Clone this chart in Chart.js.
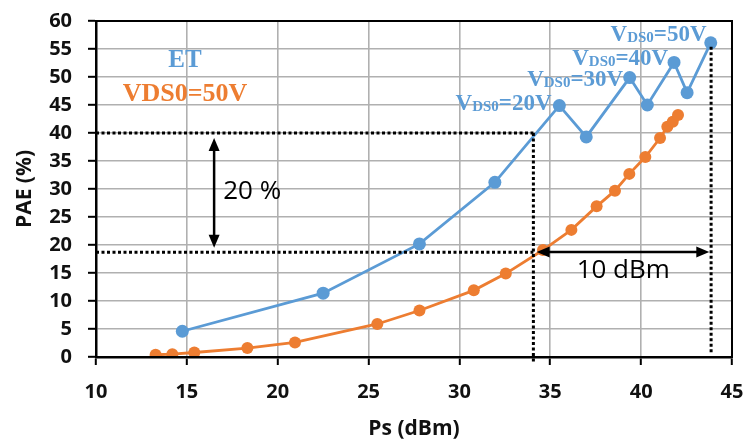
<!DOCTYPE html>
<html>
<head>
<meta charset="utf-8">
<script src="https://cdn.jsdelivr.net/npm/chart.js@4.4.1/dist/chart.umd.min.js"></script>
<style>
  html, body { margin: 0; padding: 0; background: #fff; }
  #wrap { width: 746px; height: 444px; }
</style>
</head>
<body>
<div id="wrap"><canvas id="chart" width="746" height="444"></canvas></div>
<script>
// ET (blue) : Ps (dBm) / PAE (%)
const etPs  = [14.75, 22.5, 27.8, 31.95, 35.5, 36.98, 39.37, 40.34, 41.81, 42.53, 43.83];
const etPae = [4.6, 11.4, 20.2, 31.2, 44.9, 39.3, 49.9, 45.0, 52.6, 47.2, 56.1];

// VDS0=50V (orange)
const fixPs  = [13.28, 14.2, 15.41, 18.33, 20.95, 25.48, 27.8, 30.79, 32.55, 34.6, 36.16, 37.55, 38.56, 39.35, 40.23, 41.04, 41.44, 41.74, 42.03];
const fixPae = [0.4, 0.5, 0.8, 1.6, 2.6, 5.9, 8.3, 11.9, 14.9, 19.1, 22.7, 26.9, 29.7, 32.7, 35.7, 39.1, 41.1, 42.0, 43.2];

// axes
const xTicks = [10, 15, 20, 25, 30, 35, 40, 45];
const yTicks = [0, 5, 10, 15, 20, 25, 30, 35, 40, 45, 50, 55, 60];

const BLUE = '#5B9BD5';
const ORANGE = '#ED7D31';

// annotations (data units)
const dottedLines = [
  [[10, 40], [34.07, 40]],
  [[34.07, 40], [34.07, -1]],
  [[10, 18.7], [34.07, 18.7]],
  [[43.85, 55.4], [43.85, 0.65]]
];
const arrows = [
  [[16.5, 39.1], [16.5, 19.5]],
  [[34.25, 18.75], [43.75, 18.75]]
];
const vdsLabels = [
  { x: 35.07, y: 45.6, v: '20V' },
  { x: 39.01, y: 49.8, v: '30V' },
  { x: 41.49, y: 53.6, v: '40V' },
  { x: 43.6,  y: 57.8, v: '50V' }
];

function pts(xs, ys) {
  return xs.map((v, i) => ({ x: v, y: ys[i] }));
}

function arrowHead(ctx, x1, y1, x2, y2) {
  const ang = Math.atan2(y2 - y1, x2 - x1);
  const len = 13, hw = 5.5;
  ctx.beginPath();
  ctx.moveTo(x2, y2);
  ctx.lineTo(x2 - len * Math.cos(ang) + hw * Math.sin(ang), y2 - len * Math.sin(ang) - hw * Math.cos(ang));
  ctx.lineTo(x2 - len * Math.cos(ang) - hw * Math.sin(ang), y2 - len * Math.sin(ang) + hw * Math.cos(ang));
  ctx.closePath();
  ctx.fill();
}

const annot = {
  id: 'annot',
  afterDraw(chart) {
    const { ctx, chartArea: a, scales: { x, y } } = chart;
    ctx.save();

    // cadre
    ctx.strokeStyle = '#000';
    ctx.lineWidth = 2;
    ctx.strokeRect(a.left, a.top, a.right - a.left, a.bottom - a.top);

    // pointillés
    ctx.setLineDash([3, 2.5]);
    ctx.lineWidth = 3;
    dottedLines.forEach(([p, q]) => {
      ctx.beginPath();
      ctx.moveTo(x.getPixelForValue(p[0]), y.getPixelForValue(p[1]));
      ctx.lineTo(x.getPixelForValue(q[0]), y.getPixelForValue(q[1]));
      ctx.stroke();
    });
    ctx.setLineDash([]);

    // flèches doubles
    ctx.fillStyle = '#000';
    ctx.lineWidth = 2.5;
    arrows.forEach(([p, q]) => {
      const x1 = x.getPixelForValue(p[0]), y1 = y.getPixelForValue(p[1]);
      const x2 = x.getPixelForValue(q[0]), y2 = y.getPixelForValue(q[1]);
      const ang = Math.atan2(y2 - y1, x2 - x1);
      ctx.beginPath();
      ctx.moveTo(x1 + 10 * Math.cos(ang), y1 + 10 * Math.sin(ang));
      ctx.lineTo(x2 - 10 * Math.cos(ang), y2 - 10 * Math.sin(ang));
      ctx.stroke();
      arrowHead(ctx, x1, y1, x2, y2);
      arrowHead(ctx, x2, y2, x1, y1);
    });

    // textes
    ctx.textBaseline = 'middle';
    ctx.fillStyle = '#000';
    ctx.font = '26px "Open Sans"';
    ctx.textAlign = 'left';
    ctx.fillText('20 %', x.getPixelForValue(17.0), y.getPixelForValue(29.6));
    ctx.fillText('10 dBm', x.getPixelForValue(36.45), y.getPixelForValue(15.5));

    ctx.textAlign = 'center';
    ctx.fillStyle = BLUE;
    ctx.font = 'bold 25px "Liberation Serif"';
    ctx.fillText('ET', x.getPixelForValue(14.9), y.getPixelForValue(52.9));
    ctx.fillStyle = ORANGE;
    ctx.font = 'bold 26px "Liberation Serif"';
    ctx.fillText('VDS0=50V', x.getPixelForValue(14.9), y.getPixelForValue(47.0));

    // étiquettes VDS0 (V + indice DS0)
    ctx.textAlign = 'left';
    ctx.textBaseline = 'alphabetic';
    ctx.fillStyle = BLUE;
    const big = 'bold 23px "Liberation Serif"', small = 'bold 15px "Liberation Serif"';
    vdsLabels.forEach(l => {
      ctx.font = big;
      const wV = ctx.measureText('V').width;
      const wEnd = ctx.measureText('=' + l.v).width;
      ctx.font = small;
      const wSub = ctx.measureText('DS0').width;
      const right = x.getPixelForValue(l.x);
      const base = y.getPixelForValue(l.y) + 8;
      let px = right - (wV + wSub + wEnd);
      ctx.font = big;
      ctx.fillText('V', px, base);
      px += wV;
      ctx.font = small;
      ctx.fillText('DS0', px, base + 1);
      px += wSub;
      ctx.font = big;
      ctx.fillText('=' + l.v, px, base);
    });

    ctx.restore();
  }
};

const ctx = document.getElementById('chart').getContext('2d');
const myChart = new Chart(ctx, {
  type: 'line',
  data: {
    datasets: [{
      label: 'ET',
      data: pts(etPs, etPae),
      borderColor: BLUE,
      backgroundColor: BLUE,
      borderWidth: 2.8,
      pointRadius: 6.5,
      pointBorderWidth: 0,
      tension: 0
    }, {
      label: 'VDS0=50V',
      data: pts(fixPs, fixPae),
      borderColor: ORANGE,
      backgroundColor: ORANGE,
      borderWidth: 2.8,
      pointRadius: 6,
      pointBorderWidth: 0,
      tension: 0
    }]
  },
  options: {
    responsive: false,
    animation: false,
    layout: { padding: { left: 0, right: 14, top: 21, bottom: 0 } },
    plugins: { legend: { display: false }, tooltip: { enabled: false } },
    scales: {
      x: {
        type: 'linear',
        min: 10, max: 45,
        afterBuildTicks: s => { s.ticks = xTicks.map(v => ({ value: v })); },
        afterFit: s => { s.height = 87; s.paddingLeft = 0; s.paddingRight = 0; },
        grid: { color: '#b0b0b0', lineWidth: 1.6, tickColor: '#000', tickLength: 8, tickWidth: 2 },
        border: { color: '#000', width: 2.5 },
        ticks: { color: '#111', padding: 15, font: { family: 'Open Sans', weight: 'bold', size: 20 } },
        title: { display: true, text: 'Ps (dBm)', color: '#111', padding: { top: 0, bottom: 2 },
                 font: { family: 'Open Sans', weight: 'bold', size: 21 } }
      },
      y: {
        min: 0, max: 60,
        afterBuildTicks: s => { s.ticks = yTicks.map(v => ({ value: v })); },
        afterFit: s => { s.width = 96; s.paddingTop = 0; s.paddingBottom = 0; },
        grid: { color: '#b0b0b0', lineWidth: 1.6, tickColor: '#000', tickLength: 8, tickWidth: 2 },
        border: { color: '#000', width: 2.5 },
        ticks: { color: '#111', padding: 16, font: { family: 'Open Sans', weight: 'bold', size: 20 } },
        title: { display: true, text: 'PAE (%)', color: '#111', padding: { top: 12, bottom: 0 },
                 font: { family: 'Open Sans', weight: 'bold', size: 21 } }
      }
    }
  },
  plugins: [annot]
});
</script>
</body>
</html>
